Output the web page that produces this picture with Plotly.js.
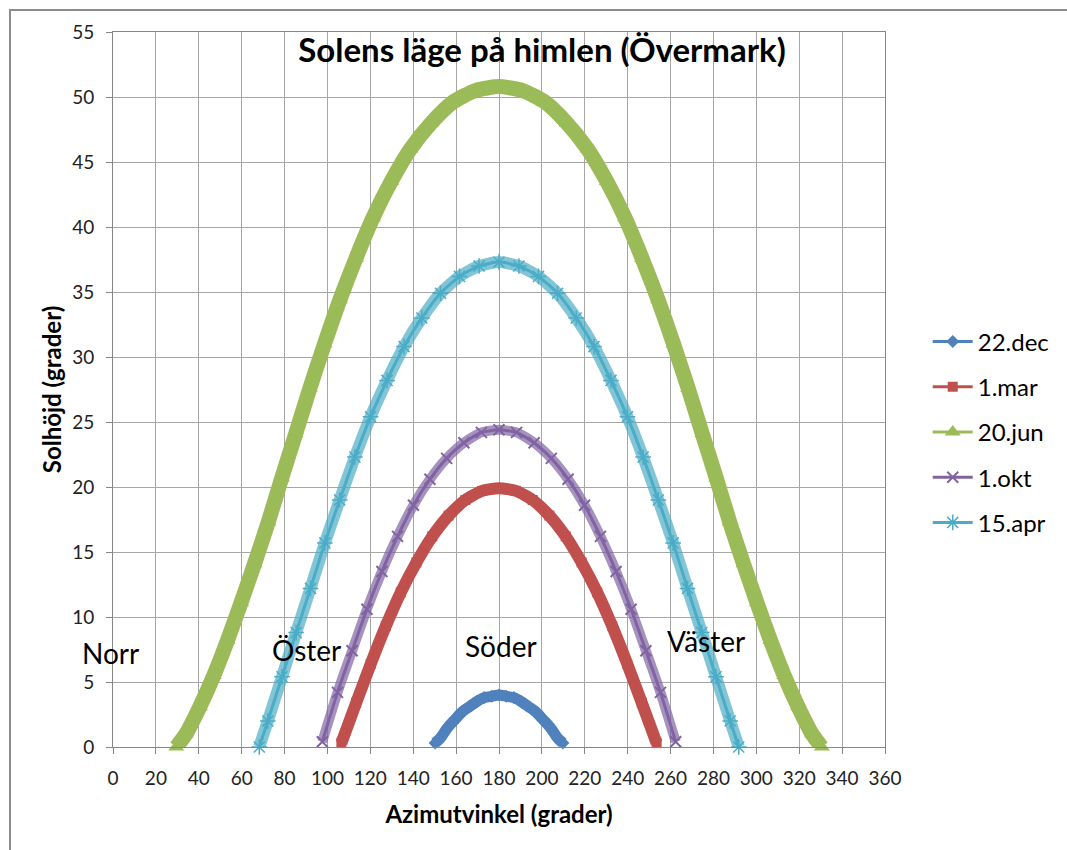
<!DOCTYPE html>
<html>
<head>
<meta charset="utf-8">
<script src="https://cdn.plot.ly/plotly-3.0.1.min.js"></script>
<style>
  html, body { margin: 0; padding: 0; background: #fff; }
  #chart { width: 1067px; height: 850px; }
  #frame { position: absolute; left: 9px; top: 9px; width: 1100px; height: 900px;
           border: 2px solid #8c8c8c; pointer-events: none; }
</style>
</head>
<body>
<div id="chart"></div>
<div id="frame"></div>
<script>
// ---- Data (azimuth in degrees, elevation in degrees) ----
const seriesNames = ['22.dec', '1.mar', '20.jun', '1.okt', '15.apr'];

const decAz = [150.2, 152.7, 156.1, 159.4, 162.8, 166.2, 169.7, 173.1, 176.6, 180,
               183.4, 186.9, 190.3, 193.8, 197.2, 200.6, 203.9, 207.3, 209.8];
const decEl = [0.3, 0.7, 1.5, 2.1, 2.7, 3.1, 3.5, 3.8, 3.9, 4.0,
               3.9, 3.8, 3.5, 3.1, 2.7, 2.1, 1.5, 0.7, 0.3];

const marAz = [106.5, 113.4, 120.2, 127.2, 134.2, 141.5, 148.9, 156.5, 164.3, 172.1, 180,
               187.9, 195.7, 203.5, 211.1, 218.5, 225.8, 232.8, 239.8, 246.6, 253.5];
const marEl = [0.3, 3.4, 6.4, 9.3, 11.9, 14.2, 16.2, 17.8, 19.0, 19.7, 19.9,
               19.7, 19.0, 17.8, 16.2, 14.2, 11.9, 9.3, 6.4, 3.4, 0.3];

const junAz = [29.5, 34.0, 40.5, 47.0, 53.4, 59.7, 66.0, 72.4, 78.7, 85.2, 91.8, 98.6, 105.8,
               113.3, 121.2, 129.7, 138.7, 148.4, 158.5, 169.1, 180,
               190.9, 201.5, 211.6, 221.3, 230.3, 238.8, 246.7, 254.2, 261.4, 268.2, 274.8,
               281.3, 287.6, 294.0, 300.3, 306.6, 313.0, 319.5, 326.0, 330.5];
const junEl = [0.0, 1.0, 3.1, 5.5, 8.2, 11.1, 14.1, 17.3, 20.7, 24.1, 27.6, 31.0, 34.4,
               37.6, 40.7, 43.5, 46.0, 48.0, 49.6, 50.5, 50.8,
               50.5, 49.6, 48.0, 46.0, 43.5, 40.7, 37.6, 34.4, 31.0, 27.6, 24.1,
               20.7, 17.3, 14.1, 11.1, 8.2, 5.5, 3.1, 1.0, 0.0];

const oktAz = [97.6, 104.7, 111.5, 118.4, 125.4, 132.7, 140.1, 147.8, 155.6, 163.6, 171.8, 180,
               188.2, 196.4, 204.4, 212.2, 219.9, 227.3, 234.6, 241.6, 248.5, 255.3, 262.4];
const oktEl = [0.4, 4.2, 7.4, 10.6, 13.5, 16.2, 18.6, 20.6, 22.2, 23.4, 24.2, 24.4,
               24.2, 23.4, 22.2, 20.6, 18.6, 16.2, 13.5, 10.6, 7.4, 4.2, 0.4];

const aprAz = [68.2, 72.2, 78.8, 85.4, 92.1, 98.8, 105.7, 112.8, 120.1, 127.8, 135.7, 144.0,
               152.7, 161.6, 170.7, 180,
               189.3, 198.4, 207.3, 216.0, 224.3, 232.2, 239.9, 247.2, 254.3, 261.2, 267.9,
               274.6, 281.2, 287.8, 291.8];
const aprEl = [0.0, 2.0, 5.4, 8.8, 12.2, 15.7, 19.0, 22.3, 25.4, 28.2, 30.8, 33.0,
               34.9, 36.2, 37.0, 37.3,
               37.0, 36.2, 34.9, 33.0, 30.8, 28.2, 25.4, 22.3, 19.0, 15.7, 12.2,
               8.8, 5.4, 2.0, 0.0];

const xTicks = [0, 20, 40, 60, 80, 100, 120, 140, 160, 180, 200, 220, 240, 260, 280, 300, 320, 340, 360];
const yTicks = [0, 5, 10, 15, 20, 25, 30, 35, 40, 45, 50, 55];

const compassLabels = ['Norr', 'Öster', 'Söder', 'Väster'];

// ---- Styles ----
const styles = [
  { color: '#4F81BD', band: 'rgba(79,129,189,1)',  bw: 11, symbol: 'diamond',       size: 10, mline: 0 },
  { color: '#C0504D', band: 'rgba(192,80,77,1)',   bw: 12, symbol: 'square',        size: 10, mline: 0 },
  { color: '#9BBB59', band: 'rgba(155,187,89,1)',  bw: 15, symbol: 'triangle-up',   size: 14, mline: 0 },
  { color: '#8064A2', band: 'rgba(128,100,162,0.7)', bw: 10, symbol: 'x-thin-open',   size: 11, mline: 2 },
  { color: '#4BACC6', band: 'rgba(75,172,198,0.7)',  bw: 12, symbol: 'asterisk-open', size: 13, mline: 1.5 }
];
const xs = [decAz, marAz, junAz, oktAz, aprAz];
const ys = [decEl, marEl, junEl, oktEl, aprEl];

const traces = [];
seriesNames.forEach((name, i) => {
  const s = styles[i];
  traces.push({
    x: xs[i], y: ys[i], type: 'scatter', mode: 'lines',
    line: { color: s.band, width: s.bw, shape: 'spline', smoothing: 0.6 },
    legendgroup: name, showlegend: false, hoverinfo: 'skip', cliponaxis: false
  });
  traces.push({
    x: xs[i], y: ys[i], type: 'scatter', mode: 'lines+markers', name: name,
    line: { color: s.color, width: 3, shape: 'spline', smoothing: 0.6 },
    marker: { symbol: s.symbol, size: s.size, color: s.color,
              line: { color: s.color, width: s.mline } },
    legendgroup: name, cliponaxis: false
  });
});

const plotL = 113, plotR = 890, plotT = 32, plotB = 747;
const W = 1067, H = 850;
const pw = plotR - plotL, ph = plotB - plotT;
const labelPos = [[110, 653], [308, 650], [504, 646], [710, 641]];

const annotations = compassLabels.map((t, i) => ({
  text: t, xref: 'paper', yref: 'paper',
  x: (labelPos[i][0] - plotL) / pw, y: (plotB - labelPos[i][1]) / ph,
  xanchor: 'center', yanchor: 'middle', showarrow: false,
  font: { family: 'Lato, sans-serif', size: 28, color: '#000' }
}));

const layout = {
  width: W, height: H,
  margin: { l: plotL, r: W - plotR, t: plotT, b: H - plotB, pad: 0 },
  paper_bgcolor: '#fff', plot_bgcolor: '#fff',
  font: { family: 'Lato, sans-serif', color: '#000' },
  title: {
    text: '<b>Solens läge på himlen (Övermark)</b>',
    x: 542 / W, xanchor: 'center', y: 1 - 50 / H, yanchor: 'middle',
    font: { family: 'Lato, sans-serif', size: 33, color: '#000' }
  },
  xaxis: {
    range: [0, 360], tickvals: xTicks, ticktext: xTicks.map(String),
    showgrid: true, gridcolor: '#a6a6a6', gridwidth: 1,
    showline: true, linecolor: '#868686', linewidth: 1, mirror: true,
    ticks: 'outside', ticklen: 6, tickcolor: '#868686',
    ticklabelstandoff: 8,
    tickfont: { family: 'Lato, sans-serif', size: 19, color: '#222' },
    zeroline: false, automargin: false,
    title: { text: '<b>Azimutvinkel (grader)</b>', standoff: 18,
             font: { family: 'Lato, sans-serif', size: 24, color: '#000' } }
  },
  yaxis: {
    range: [0, 55], tickvals: yTicks, ticktext: yTicks.map(String),
    showgrid: true, gridcolor: '#a6a6a6', gridwidth: 1,
    showline: true, linecolor: '#868686', linewidth: 1, mirror: true,
    ticks: 'outside', ticklen: 6, tickcolor: '#868686',
    ticklabelstandoff: 8,
    tickfont: { family: 'Lato, sans-serif', size: 19, color: '#222' },
    zeroline: false, automargin: false,
    title: { text: '<b>Solhöjd (grader)</b>', standoff: 3,
             font: { family: 'Lato, sans-serif', size: 24, color: '#000' } }
  },
  legend: {
    x: (933 - plotL) / pw, xanchor: 'left',
    y: (plotB - 432) / ph, yanchor: 'middle',
    traceorder: 'grouped', tracegroupgap: 11, itemwidth: 40,
    bgcolor: 'rgba(0,0,0,0)', borderwidth: 0,
    font: { family: 'Lato, sans-serif', size: 24, color: '#000' }
  },
  annotations: annotations,
  showlegend: true
};

Plotly.newPlot('chart', traces, layout, { displayModeBar: false, staticPlot: true });
</script>
</body>
</html>
